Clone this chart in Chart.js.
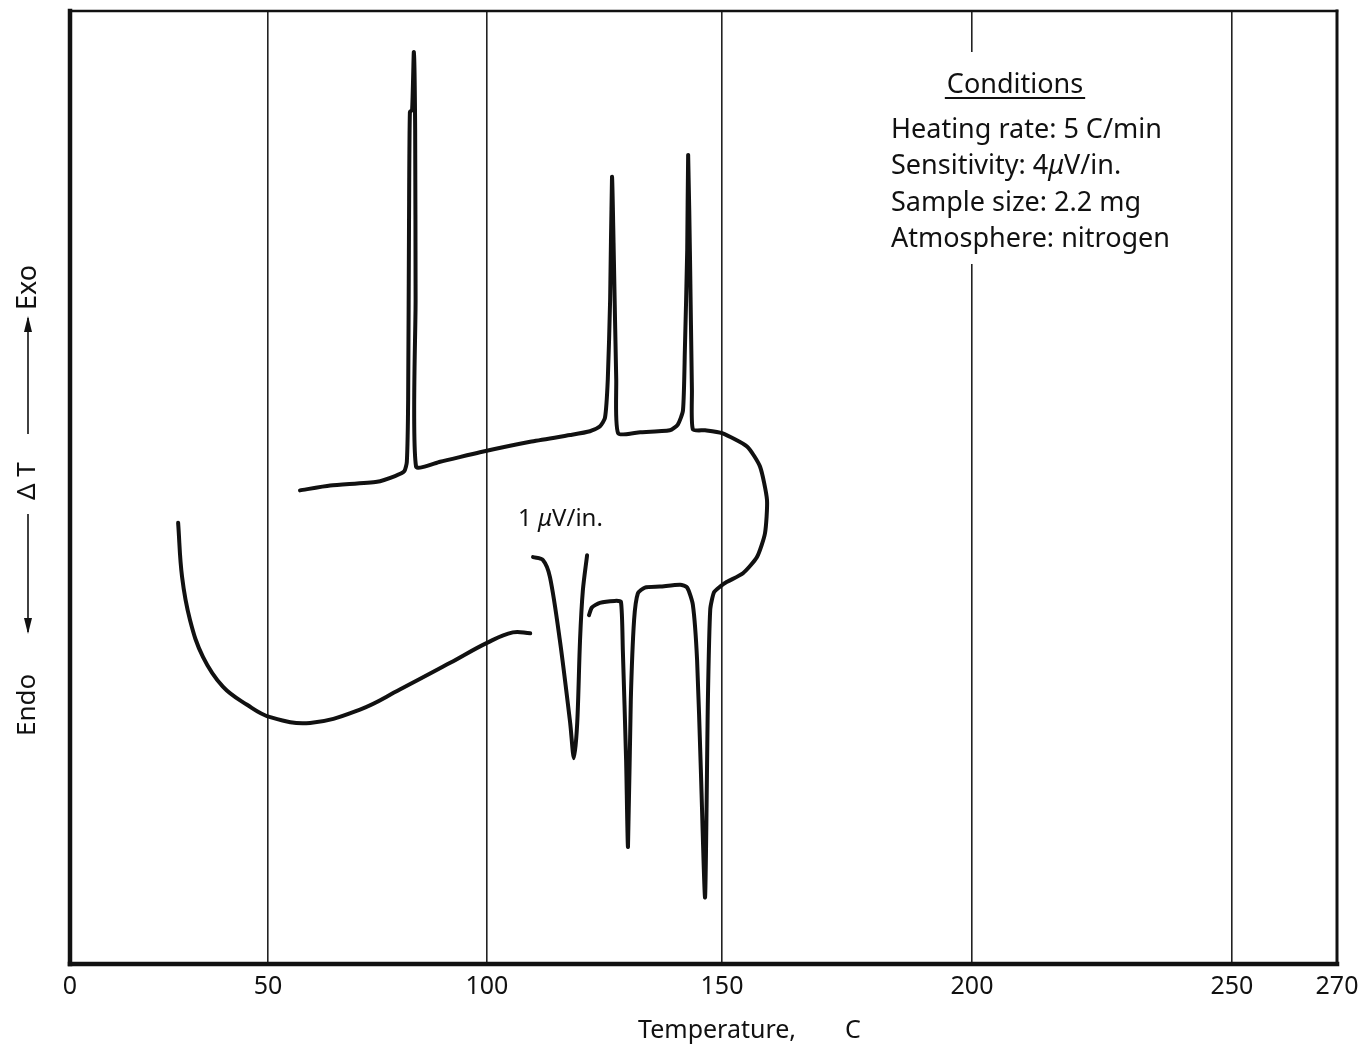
<!DOCTYPE html>
<html>
<head>
<meta charset="utf-8">
<title>DTA thermogram</title>
<script src="https://cdn.jsdelivr.net/npm/chart.js@4.4.1/dist/chart.umd.min.js"></script>
<style>
  html, body { margin: 0; padding: 0; background: #fff; }
  #wrap { width: 1363px; height: 1048px; position: relative; }
</style>
</head>
<body>
<div id="wrap"><canvas id="dta"></canvas></div>
<script>
// recorder paper temperature divisions (C) and where each one falls across the plot width
var tempTicks = [0, 50, 100, 150, 200, 250, 270];
var tickFrac = [0, 0.1563, 0.3291, 0.5146, 0.7119, 0.9171, 1];

// 4 uV/in trace: heating run with the three exotherms, round the turn, back along the lower run
var mainT = [57.3, 64.2, 74.9, 79.0, 81.1, 81.7, 82.0, 82.2, 82.4, 82.9, 83.3, 83.6, 83.7, 83.8,
             89.3, 98.4, 109.2, 117.7, 121.9, 124.0, 125.1, 125.7, 126.2, 126.6, 127.0, 127.5, 127.9,
             132.6, 138.9, 140.6, 141.7, 142.1, 142.6, 142.8, 143.2, 143.6, 143.8, 146.4, 150.0,
             155.0, 157.6, 159.0, 158.6, 157.0, 154.2, 151.0, 149.6, 148.3, 147.5, 147.0, 146.4,
             145.5, 144.7, 143.8, 142.6, 141.1, 136.8, 133.6, 132.1, 131.3, 130.6, 130.0, 129.6,
             128.9, 128.5, 127.2, 124.0, 122.3, 121.7];
var mainDT = [49.7, 50.2, 50.6, 51.2, 51.7, 52.7, 59.2, 78.1, 89.4, 89.6, 95.7, 87.5, 69.7, 52.2,
              52.7, 53.7, 54.8, 55.5, 55.9, 56.4, 57.3, 61.3, 69.7, 82.6, 73.9, 61.3, 55.7,
              55.8, 56.0, 56.6, 58.1, 64.4, 74.9, 84.9, 73.9, 60.2, 56.1, 56.0, 55.7,
              54.3, 52.2, 48.7, 45.2, 42.7, 41.0, 40.1, 39.6, 39.0, 37.2, 27.7, 7.0,
              20.4, 31.9, 37.7, 39.5, 39.8, 39.6, 39.5, 38.9, 36.1, 27.7, 12.3, 21.4,
              33.0, 38.0, 38.1, 37.9, 37.4, 36.6];

// 1 uV/in endotherm
var smallT = [109.8, 111.9, 113.4, 115.5, 117.7, 118.5, 119.2, 119.8, 120.4, 121.3];
var smallDT = [42.7, 42.4, 40.6, 34.0, 25.3, 21.6, 25.3, 34.0, 39.2, 42.9];

// lower left sweep
var lowT = [109.2, 105.5, 100.0, 91.6, 80.1, 71.0, 59.6, 50.5, 44.7, 38.6, 33.6, 30.3, 28.3, 27.3];
var lowDT = [34.7, 34.8, 33.7, 31.6, 28.8, 26.7, 25.3, 25.9, 27.2, 29.1, 32.2, 36.1, 40.6, 46.3];

var conditions = ['Heating rate: 5 C/min', 'Sensitivity: 4|\u03bc|V/in.', 'Sample size: 2.2 mg', 'Atmosphere: nitrogen'];

function pts(xs, ys) {
  var out = [];
  for (var i = 0; i < xs.length; i++) out.push({x: xs[i], y: ys[i]});
  return out;
}

// linear scale that follows the uneven spacing of the chart paper
class ThermoScale extends Chart.LinearScale {
  getPixelForValue(value) {
    if (value === null || value === undefined) return NaN;
    var i = 1;
    while (i < tempTicks.length - 1 && value > tempTicks[i]) i++;
    var t0 = tempTicks[i - 1], t1 = tempTicks[i];
    var f = tickFrac[i - 1] + (value - t0) / (t1 - t0) * (tickFrac[i] - tickFrac[i - 1]);
    return this.getPixelForDecimal(f);
  }
  getValueForPixel(pixel) {
    var f = this.getDecimalForPixel(pixel);
    var i = 1;
    while (i < tickFrac.length - 1 && f > tickFrac[i]) i++;
    return tempTicks[i - 1] + (f - tickFrac[i - 1]) / (tickFrac[i] - tickFrac[i - 1]) * (tempTicks[i] - tempTicks[i - 1]);
  }
}
ThermoScale.id = 'thermo';
ThermoScale.defaults = Chart.LinearScale.defaults;
Chart.register(ThermoScale);

var FONT = '"Noto Sans", "DejaVu Sans", sans-serif';
var INK = '#111';

function hline(ctx, x1, y1, x2, y2, w) {
  ctx.lineWidth = w;
  ctx.beginPath();
  ctx.moveTo(x1, y1);
  ctx.lineTo(x2, y2);
  ctx.stroke();
}

// text with |...| runs set in italic (the mu)
function runs(ctx, str, x, y, size) {
  var parts = str.split('|');
  for (var i = 0; i < parts.length; i++) {
    ctx.font = (i % 2 ? 'italic ' : '') + size + 'px ' + FONT;
    ctx.fillText(parts[i], x, y);
    x += ctx.measureText(parts[i]).width;
  }
}

function arrow(ctx, x, yFrom, yTo) {
  hline(ctx, x, yFrom, x, yTo, 1.6);
  var d = yTo > yFrom ? 1 : -1;
  ctx.beginPath();
  ctx.moveTo(x, yTo + d * 2);
  ctx.lineTo(x - 4, yTo - d * 14);
  ctx.lineTo(x + 4, yTo - d * 14);
  ctx.closePath();
  ctx.fill();
}

function vtext(ctx, str, yBottom, size) {
  ctx.save();
  ctx.translate(0, yBottom);
  ctx.rotate(-Math.PI / 2);
  ctx.font = size + 'px ' + FONT;
  ctx.textBaseline = 'middle';
  ctx.fillText(str, 0, 0);
  ctx.restore();
}

var paper = {
  id: 'paper',
  beforeDatasetsDraw: function (chart) {
    var a = chart.chartArea, ctx = chart.ctx;
    ctx.save();
    ctx.strokeStyle = INK;
    ctx.lineCap = 'square';
    hline(ctx, a.left, a.top, a.right, a.top, 2.5);
    hline(ctx, a.right, a.top, a.right, a.bottom, 3);
    hline(ctx, a.left, a.top, a.left, a.bottom, 4.5);
    hline(ctx, a.left, a.bottom, a.right, a.bottom, 4.5);
    // blank paper behind the conditions block
    ctx.fillStyle = '#fff';
    ctx.fillRect(880, 52, 296, 212);
    ctx.restore();
  },
  afterDatasetsDraw: function (chart) {
    var ctx = chart.ctx;
    ctx.save();
    ctx.fillStyle = INK;
    ctx.strokeStyle = INK;
    ctx.textBaseline = 'alphabetic';

    // conditions block
    ctx.font = '27px ' + FONT;
    ctx.textAlign = 'center';
    ctx.fillText('Conditions', 1015, 93);
    var w = ctx.measureText('Conditions').width;
    hline(ctx, 1015 - w / 2 - 2, 98, 1015 + w / 2 + 2, 98, 2);
    ctx.textAlign = 'left';
    for (var i = 0; i < conditions.length; i++) {
      runs(ctx, conditions[i], 891, 138 + i * 36.3, 27);
    }

    // sensitivity change marker
    runs(ctx, '1 |\u03bc|V/in.', 518, 526, 24);

    // x axis title
    ctx.font = '25px ' + FONT;
    ctx.fillText('Temperature,', 638, 1038);
    ctx.fillText('C', 845, 1038);

    // y axis legend, read bottom to top
    ctx.translate(28, 0);
    vtext(ctx, 'Endo', 736, 26);
    arrow(ctx, 0, 514, 632);
    vtext(ctx, '\u0394 T', 500, 26);
    arrow(ctx, 0, 434, 318);
    vtext(ctx, 'Exo', 310, 27);

    ctx.restore();
  }
};

var lineStyle = {
  showLine: true,
  borderColor: INK,
  borderWidth: 4,
  pointRadius: 0,
  borderCapStyle: 'round',
  borderJoinStyle: 'round',
  fill: false
};

new Chart(document.getElementById('dta'), {
  type: 'scatter',
  data: {
    datasets: [
      Object.assign({label: '4 uV/in', data: pts(mainT, mainDT), tension: 0.2}, lineStyle),
      Object.assign({label: '1 uV/in', data: pts(smallT, smallDT), tension: 0.3}, lineStyle),
      Object.assign({label: 'low', data: pts(lowT, lowDT), tension: 0.4}, lineStyle)
    ]
  },
  options: {
    responsive: true,
    maintainAspectRatio: false,
    animation: false,
    layout: {padding: {left: 70, right: 26, top: 11, bottom: 0}},
    plugins: {legend: {display: false}, tooltip: {enabled: false}},
    scales: {
      x: {
        type: 'thermo',
        min: 0,
        max: 270,
        afterBuildTicks: function (scale) {
          scale.ticks = tempTicks.map(function (v) { return {value: v}; });
        },
        afterFit: function (scale) {
          scale.height = 84;
          scale.paddingLeft = 0;
          scale.paddingRight = 0;
        },
        border: {display: false},
        grid: {
          drawTicks: false,
          lineWidth: 1.6,
          color: function (c) {
            return (c.tick && (c.tick.value === 0 || c.tick.value === 270)) ? 'rgba(0,0,0,0)' : '#222';
          }
        },
        ticks: {
          autoSkip: false,
          maxRotation: 0,
          padding: 8,
          color: INK,
          font: {family: FONT, size: 25}
        }
      },
      y: {
        display: false,
        min: 0,
        max: 100
      }
    }
  },
  plugins: [paper]
});
</script>
</body>
</html>
